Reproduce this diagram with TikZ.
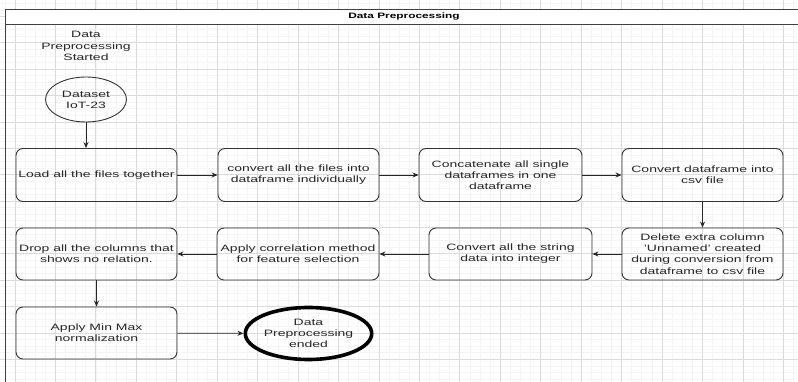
\documentclass[tikz,border=0pt]{standalone}
\usepackage{fontspec}
\setmainfont[FakeStretch=1.52]{Liberation Sans}
\usetikzlibrary{arrows.meta,shapes.geometric}
\begin{document}
\begin{tikzpicture}[x=1pt,y=-1pt,
  box/.style={draw=black!80,line width=0.9pt,rounded corners=7pt,minimum width=161pt,minimum height=53pt,align=center,inner sep=1pt,font=\fontsize{9.2}{11.2}\selectfont,text=black!85},
  startell/.style={draw=black!80,line width=0.9pt,ellipse,minimum width=81pt,minimum height=45pt,inner sep=0pt,align=center,font=\fontsize{9.2}{11.2}\selectfont,text=black!85},
  endell/.style={draw=black,line width=3.6pt,ellipse,minimum width=124pt,minimum height=52pt,inner sep=0pt,align=center,font=\fontsize{9.2}{11.2}\selectfont,text=black!85},
  lbl/.style={align=center,inner sep=0pt,font=\fontsize{9.2}{11.2}\selectfont,text=black!85},
  conn/.style={draw=black!85,line width=0.8pt,-{Stealth[length=6pt,width=5pt]}},
  frameline/.style={draw=black!75,line width=0.9pt},
  minorgrid/.style={draw=black!4,line width=0.5pt},
  majorgrid/.style={draw=black!14,line width=0.6pt}]
\useasboundingbox (0,0) rectangle (798,382);
\fill[white] (0,0) rectangle (798,382);
% grid
\foreach \i in {-1,...,79} {
  \draw[minorgrid] ({14.9+10.11*\i},0) -- ({14.9+10.11*\i},382);
}
\foreach \i in {-3,...,58} {
  \draw[minorgrid] (0,{16.3+6.595*\i}) -- (798,{16.3+6.595*\i});
}
\foreach \i in {0,...,19} {
  \draw[majorgrid] ({14.9+40.44*\i},0) -- ({14.9+40.44*\i},382);
}
\foreach \i in {0,...,14} {
  \draw[majorgrid] (0,{16.3+26.38*\i}) -- (798,{16.3+26.38*\i});
}
% frame
\fill[white] (5.3,9.3) rectangle (800,24.3);
\draw[frameline] (800,9.3) -- (5.3,9.3) -- (5.3,384);
\draw[frameline] (5.3,24.3) -- (800,24.3);
\node[inner sep=0pt,font=\fontsize{7.8}{9}\selectfont\bfseries] (title) at (404,17) {Data Preprocessing};
% nodes
\node[lbl] (started) at (86,46) {Data\\Preprocessing\\Started};
\node[startell] (ds) at (86,99.5) {Dataset\\IoT-23};
\node[box] (load) at (96.5,175) {Load all the files together};
\node[box] (conv) at (298.5,175) {convert all the files into\\dataframe individually};
\node[box,minimum width=163pt] (concat) at (500.5,175) {Concatenate all single\\dataframes in one\\dataframe};
\node[box] (csv) at (702.5,175) {Convert dataframe into\\csv file};
\node[box,minimum height=52pt] (del) at (702.5,254) {Delete extra column\\'Unnamed' created\\during conversion from\\dataframe to csv file};
\node[box,minimum width=163pt,minimum height=52pt] (str) at (510.5,254) {Convert all the string\\data into integer};
\node[box,minimum width=162pt,minimum height=52pt] (corr) at (298,254) {Apply correlation method\\for feature selection};
\node[box,minimum height=52pt] (drop) at (96.5,254) {Drop all the columns that\\shows no relation.};
\node[box,minimum height=52pt] (mm) at (96.5,333) {Apply Min Max\\normalization};
\node[endell] (end) at (308.5,333.5) {Data\\Preprocessing\\ended};
% connectors
\draw[conn] (ds.south) -- (ds.south |- load.north);
\draw[conn] (load) -- (conv);
\draw[conn] (conv) -- (concat);
\draw[conn] (concat) -- (csv);
\draw[conn] (csv) -- (del);
\draw[conn] (del) -- (str);
\draw[conn] (str) -- (corr);
\draw[conn] (corr) -- (drop);
\draw[conn] (drop) -- (mm);
\draw[conn] (mm) -- (end);
\end{tikzpicture}
\end{document}
